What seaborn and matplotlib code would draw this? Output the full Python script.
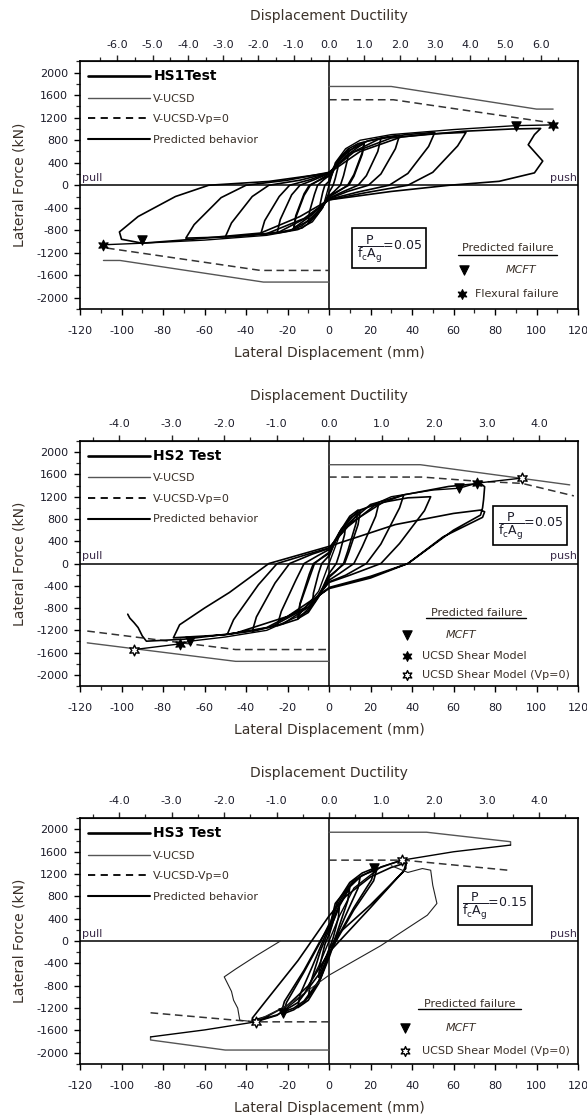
import numpy as np
import pandas as pd
import matplotlib
matplotlib.use("Agg")
import matplotlib.pyplot as plt
import seaborn as sns
from matplotlib.lines import Line2D

sns.set_style("ticks")
plt.rcParams['font.family'] = ['DejaVu Sans']
plt.rcParams['mathtext.default'] = 'regular'
plt.rcParams['axes.unicode_minus'] = False

# ---------------- data ----------------
specimens = ["HS1Test", "HS2 Test", "HS3 Test"]
axial_ratio = ["0.05", "0.05", "0.15"]
ductility_unit_mm = [17.0, 25.3, 25.3]
ductility_ticks = [[-6, -5, -4, -3, -2, -1, 0, 1, 2, 3, 4, 5, 6],
                   [-4, -3, -2, -1, 0, 1, 2, 3, 4],
                   [-4, -3, -2, -1, 0, 1, 2, 3, 4]]
disp_ticks = [-120, -100, -80, -60, -40, -20, 0, 20, 40, 60, 80, 100, 120]
force_ticks = [-2000, -1600, -1200, -800, -400, 0, 400, 800, 1200, 1600, 2000]

# HS1 test hysteresis (mm, kN)
hs1_cycles = [
    [(0,60),(1.5,200),(3,330),(4.5,420),(4.2,300),(3,120),(2,0),(0,-130),(-1.5,-260),(-3,-360),(-4.5,-450),(-4.2,-320),(-3,-120),(-2,0),(0,70)],
    [(0,90),(3,340),(6,520),(9.5,640),(9,470),(7,170),(5.5,0),(2.5,-110),(0,-190),(-3,-380),(-6,-540),(-10,-660),(-9.4,-470),(-7,-160),(-5.5,0),(-2.5,100),(0,170)],
    [(0,170),(4,430),(9,640),(14,740),(17,770),(16,580),(12,190),(9,0),(4,-120),(0,-210),(-4,-440),(-9,-650),(-13,-760),(-17,-790),(-16,-570),(-12,-180),(-9,0),(-4,110),(0,200)],
    [(0,150),(4,400),(9,610),(17,740),(16,550),(12,160),(9.5,0),(4,-110),(0,-190),(-4,-410),(-9,-620),(-17,-760),(-16,-540),(-12,-150),(-9.5,0),(-4,100),(0,170)],
    [(0,200),(6,490),(13,700),(19,790),(25,830),(23.5,600),(18,170),(14,0),(7,-110),(0,-230),(-6,-490),(-13,-720),(-19,-810),(-25,-850),(-23.5,-610),(-18,-170),(-14,0),(-7,100),(0,210)],
    [(0,210),(8,520),(18,780),(26,850),(34,890),(32,650),(25,200),(19,0),(9,-110),(0,-240),(-8,-520),(-18,-790),(-26,-850),(-33,-880),(-31,-630),(-24,-200),(-19,0),(-9,100),(0,220)],
    [(0,220),(10,560),(24,820),(37,900),(51,940),(48,690),(38,210),(29,0),(14,-120),(0,-250),(-10,-560),(-24,-830),(-37,-890),(-50,-920),(-47,-670),(-37,-200),(-29,0),(-14,90),(0,220)],
    [(0,230),(12,590),(30,840),(48,910),(66,940),(62,700),(50,230),(38,0),(18,-130),(0,-260),(-12,-590),(-30,-860),(-50,-920),(-69,-940),(-65,-700),(-52,-220),(-40,0),(-20,90),(0,230)],
    [(0,216),(15,600),(35,860),(65,960),(88,1000),(102,1010),(99,900),(96,720),(103,430),(99,220),(82,70),(58,0),(30,-110),(0,-260),(-14,-556),(-33,-850),(-69,-970),(-90,-1030),(-100,-960),(-101,-830),(-92,-556),(-74,-200),(-58,0),(-29,68),(0,216)],
]
hs1_vucsd = [[(0,1756),(30,1756),(100,1354),(108,1354)], [(-108.7,-1337),(-100.7,-1337),(-31.6,-1721),(0,-1721)]]
hs1_vp0 = [[(0,1520),(31,1520),(108,1105)], [(-107,-1117),(-33,-1514),(0,-1514)]]
hs1_pred = [(-108.7,-1058),(-90,-1030),(-60,-975),(-30,-890),(-15,-790),(-8,-650),(-3,-400),(0,0),(3,400),(8,650),(15,800),(30,900),(60,990),(90,1060),(108,1073)]
hs1_mcft = [(90,1060),(-90,-981)]
hs1_flex = [(108,1073),(-108.7,-1058)]

# HS2
hs2_cycles = [
    [(0,120),(3,400),(6,620),(8,700),(7.5,520),(5,170),(3.5,0),(0,-180),(-3,-430),(-6,-630),(-8,-720),(-7.5,-530),(-5,-170),(-3.5,0),(0,140)],
    [(0,180),(5,560),(10,850),(14,960),(13,720),(9,220),(7,0),(3,-150),(0,-250),(-5,-600),(-10,-880),(-15,-990),(-14,-740),(-9,-210),(-7,0),(-3,120),(0,200)],
    [(0,160),(5,540),(10,820),(15,930),(14,700),(9.5,200),(7.5,0),(3,-140),(0,-230),(-5,-580),(-10,-850),(-15,-960),(-14,-720),(-9.5,-190),(-7.5,0),(-3,110),(0,180)],
    [(0,240),(6,620),(14,950),(24,1080),(22.5,850),(16,300),(12,0),(5,-180),(0,-300),(-7,-700),(-15,-1000),(-25,-1120),(-23,-860),(-16,-300),(-12,0),(-5,150),(0,250)],
    [(0,260),(8,680),(20,1060),(36,1230),(34,1000),(25,350),(18,0),(8,-210),(0,-330),(-9,-760),(-22,-1080),(-37,-1220),(-35,-960),(-26,-350),(-19,0),(-8,170),(0,270)],
    [(0,280),(10,720),(26,1100),(38,1180),(49,1200),(46,950),(34,360),(25,0),(10,-210),(0,-340),(-10,-780),(-28,-1140),(-40,-1230),(-49,-1270),(-46,-1010),(-34,-380),(-25,0),(-10,170),(0,280)],
    [(0,280),(9,660),(21.6,1033),(36,1233),(57.6,1384),(73,1440),(75,1380),(74.5,1150),(74,1000),(73,870),(60,600),(38,0),(20,-230),(0,-430),(-12,-800),(-30,-1150),(-50,-1280),(-75,-1334),(-72,-1100),(-60,-800),(-48,-520),(-29,0),(0,308),(32,700),(60,900),(73,960),(75,930),(74,830),(55,480),(38,0),(20,-260),(0,-450),(-20,-950),(-45,-1250),(-70,-1360),(-88,-1395),(-90,-1300),(-92,-1150),(-94,-1060),(-96,-980),(-97,-910)],
]
hs2_vucsd = [[(0,1775),(44,1775),(116,1413)], [(-116.5,-1425),(-45,-1757),(0,-1757)]]
hs2_vp0 = [[(0,1553),(45,1553),(71,1480),(93,1440),(118,1215)], [(-116.5,-1213),(-45,-1545),(0,-1545)]]
hs2_pred = [(-94,-1546),(-72,-1444),(-67,-1395),(-50,-1320),(-30,-1200),(-15,-950),(-5,-500),(0,0),(5,500),(15,950),(30,1200),(50,1320),(62.8,1353),(71.2,1444),(92.8,1534)]
hs2_mcft = [(62.8,1353),(-67,-1395)]
hs2_ucsd = [(71.2,1444),(-72,-1444)]
hs2_ucsd0 = [(92.8,1534),(-94,-1546)]

# HS3
hs3_cycles = [
    [(0,100),(2,350),(5,620),(4.5,420),(2,60),(0,-150),(-2,-400),(-5,-650),(-4.5,-450),(-2,-60),(0,120)],
    [(0,150),(4,560),(10,960),(9,720),(4,170),(0,-250),(-4,-660),(-10,-1010),(-9,-760),(-4,-160),(0,200)],
    [(0,200),(5,650),(10,970),(15,1150),(14,950),(8,460),(3,30),(0,-300),(-5,-760),(-10,-1060),(-15,-1190),(-14,-960),(-8,-450),(-3,0),(0,250)],
    [(0,250),(4,700),(10,1050),(16,1220),(22,1310),(20.5,1100),(12,600),(4,60),(0,-250),(-5,-750),(-12,-1100),(-17,-1230),(-22,-1300),(-20.5,-1100),(-12,-550),(-4,0),(0,300)],
    [(0,220),(4,650),(10,1000),(16,1180),(23,1280),(21.5,1080),(12,560),(4,40),(0,-230),(-5,-720),(-12,-1070),(-17,-1200),(-23,-1280),(-21.5,-1080),(-12,-520),(-4,20),(0,260)],
    [(0,200),(3,675),(12,1090),(21,1270),(35,1450),(37,1380),(36,1250),(20,650),(5,150),(0,-150),(-5,-600),(-15,-1100),(-25,-1320),(-36,-1440),(-37,-1380),(-30,-1050),(-15,-350),(0,450),(8,800),(20,1150),(30,1320),(37,1400),(37,1300),(20,600),(0,-200),(-10,-800),(-20,-1150),(-30,-1350),(-37,-1420)],
]
hs3_thin = [(30,1350),(38,1230),(45,1300),(49,1270),(50,1000),(52,675),(47.4,465),(25,-80),(0,-610),(-20,-1150),(-36,-1445),(-43,-1415),(-44,-1200),(-46,-1057),(-47,-900),(-50.5,-640),(-45,-500),(-35,-260),(-23.5,0)]
hs3_vucsd = [[(0,1950),(47,1950),(87.5,1780),(87.5,1720)], [(0,-1950),(-50,-1950),(-86,-1770),(-86,-1715)]]
hs3_vp0 = [[(0,1450),(36,1450),(86,1271)], [(-86,-1283),(-36,-1445),(0,-1445)]]
hs3_pred = [(-86,-1715),(-60,-1590),(-35.3,-1445),(-25,-1330),(-12,-950),(-5,-450),(0,0),(5,450),(12,950),(25,1330),(35.3,1450),(60,1600),(87.5,1720)]
hs3_mcft = [(21.7,1313),(-22,-1295)]
hs3_ucsd0 = [(35.3,1450),(-35.3,-1445)]

# ---------------- helpers ----------------
def to_df(paths):
    rows = []
    for i, p in enumerate(paths):
        for j, (x, y) in enumerate(p):
            rows.append((i, j, x, y))
    return pd.DataFrame(rows, columns=["unit", "order", "disp", "force"])

def draw_paths(ax, paths, **kw):
    df = to_df(paths)
    sns.lineplot(data=df, x="disp", y="force", units="unit", estimator=None,
                 sort=False, ax=ax, legend=False, **kw)

def draw_points(ax, pts, marker, s, face, edge="black", lw=0.8):
    df = pd.DataFrame(pts, columns=["disp", "force"])
    sns.scatterplot(data=df, x="disp", y="force", marker=marker, s=s,
                    color=face, edgecolor=edge, linewidth=lw, ax=ax, zorder=6, legend=False)

TXT = "#1c1c2a"
LBL = "#3a3028"
STAR = (6, 1, 0)

fig = plt.figure(figsize=(5.87, 11.18), dpi=100)
rects = [[0.1363, 0.7236, 0.8484, 0.2214],
         [0.1363, 0.3864, 0.8484, 0.2191],
         [0.1363, 0.0483, 0.8484, 0.2198]]

panels = [
    dict(cycles=hs1_cycles, thin=None, vucsd=hs1_vucsd, vp0=hs1_vp0, pred=hs1_pred),
    dict(cycles=hs2_cycles, thin=None, vucsd=hs2_vucsd, vp0=hs2_vp0, pred=hs2_pred),
    dict(cycles=hs3_cycles, thin=hs3_thin, vucsd=hs3_vucsd, vp0=hs3_vp0, pred=hs3_pred),
]
box_pos = [(29, -1120), (97, 680), (80, 640)]

for k, (rect, pan) in enumerate(zip(rects, panels)):
    ax = fig.add_axes(rect)
    ax.set_xlim(-120, 120)
    ax.set_ylim(-2200, 2200)
    ax.axhline(0, color="black", lw=1.1, zorder=1)
    ax.axvline(0, color="black", lw=1.1, zorder=1)

    draw_paths(ax, pan["vucsd"], color="#555555", lw=1.0)
    vp = to_df(pan["vp0"])
    for u, g in vp.groupby("unit"):
        sns.lineplot(data=g, x="disp", y="force", sort=False, estimator=None, ax=ax,
                     color="#333333", lw=1.1, legend=False).lines[-1].set_dashes((5, 3))
    draw_paths(ax, pan["cycles"], color="black", lw=1.2)
    if pan["thin"] is not None:
        draw_paths(ax, [pan["thin"]], color="#222222", lw=0.8)
    draw_paths(ax, [pan["pred"]], color="black", lw=1.0)

    # markers
    if k == 0:
        draw_points(ax, hs1_mcft, "v", 45, "black")
        draw_points(ax, hs1_flex, STAR, 60, "black")
    elif k == 1:
        draw_points(ax, hs2_mcft, "v", 45, "black")
        draw_points(ax, hs2_ucsd, STAR, 60, "black")
        draw_points(ax, hs2_ucsd0, STAR, 60, "white", lw=1.0)
    else:
        draw_points(ax, hs3_mcft, "v", 45, "black")
        draw_points(ax, hs3_ucsd0, STAR, 60, "white", lw=1.0)

    # axes styling
    ax.set_xticks(disp_ticks)
    ax.set_xticks(np.arange(-110, 120, 20), minor=True)
    ax.set_yticks(force_ticks)
    ax.set_yticks(np.arange(-2200, 2201, 400), minor=True)
    ax.tick_params(axis="both", which="major", direction="out", length=4.5, width=1.0,
                   labelsize=8, colors="black", labelcolor=TXT)
    ax.tick_params(axis="both", which="minor", direction="out", length=3, width=0.9)
    ax.tick_params(axis="x", which="both", pad=8, top=False)
    ax.tick_params(axis="y", which="both", pad=4, right=False)
    for sp in ax.spines.values():
        sp.set_linewidth(1.2)
        sp.set_color("black")
    ax.set_xlabel("Lateral Displacement (mm)", fontsize=10, color=LBL, labelpad=7)
    ax.set_ylabel("Lateral Force (kN)", fontsize=10, color=LBL, labelpad=7)

    du = ductility_unit_mm[k]
    sec = ax.secondary_xaxis("top", functions=(lambda x, d=du: x / d, lambda x, d=du: x * d))
    sec.set_xticks(ductility_ticks[k])
    sec.set_xticks(np.arange(ductility_ticks[k][0] - 0.5, ductility_ticks[k][-1] + 0.6, 1.0), minor=True)
    sec.set_xticklabels([f"{t:.1f}" for t in ductility_ticks[k]])
    sec.tick_params(which="major", direction="out", length=4.5, width=1.0, labelsize=8,
                    labelcolor=TXT, pad=4)
    sec.tick_params(which="minor", direction="out", length=3, width=0.9)
    sec.set_xlabel("Displacement Ductility", fontsize=10, color=LBL, labelpad=14)

    # pull / push
    ax.text(-119, 40, "pull", fontsize=8, color="#3a2a48", ha="left", va="bottom")
    ax.text(119.5, 40, "push", fontsize=8, color="#3a2a48", ha="right", va="bottom")

    # legend
    handles = [Line2D([], [], color="black", lw=1.9),
               Line2D([], [], color="#555555", lw=1.0),
               Line2D([], [], color="black", lw=1.3, dashes=(4, 3)),
               Line2D([], [], color="black", lw=1.5)]
    labels = [specimens[k], "V-UCSD", "V-UCSD-Vp=0", "Predicted behavior"]
    leg = ax.legend(handles, labels, loc="upper left", bbox_to_anchor=(0.0, 1.0),
                    frameon=False, fontsize=8, handlelength=5.6, handletextpad=0.3,
                    labelspacing=0.95, borderaxespad=0.3)
    for i, t in enumerate(leg.get_texts()):
        if i == 0:
            t.set_fontweight("bold")
            t.set_fontsize(10)
            t.set_color("black")
        else:
            t.set_color(LBL)

    # P/(f'c Ag) box
    bx, by = box_pos[k]
    ax.text(bx, by, r"$\dfrac{P}{f_{c}A_{g}}$" + "=" + axial_ratio[k], fontsize=9, color=TXT,
            ha="center", va="center",
            bbox=dict(boxstyle="square,pad=0.35", fc="white", ec="black", lw=1.2))

    # predicted failure legend
    if k == 0:
        ax.text(86, -1111, "Predicted failure", fontsize=8, color=LBL, ha="center", va="center")
        ax.plot([62, 110], [-1235, -1235], color="black", lw=1.0)
        draw_points(ax, [(65, -1514)], "v", 45, "black")
        ax.text(92.6, -1514, "MCFT", fontsize=8, color=LBL, ha="center", va="center", style="italic")
        draw_points(ax, [(64, -1934)], STAR, 50, "black")
        ax.text(70.5, -1934, "Flexural failure", fontsize=8, color=LBL, ha="left", va="center")
    elif k == 1:
        ax.text(71, -893, "Predicted failure", fontsize=8, color=LBL, ha="center", va="center")
        ax.plot([46.8, 95], [-983, -983], color="black", lw=1.0)
        draw_points(ax, [(37.4, -1292)], "v", 45, "black")
        ax.text(63.8, -1292, "MCFT", fontsize=8, color=LBL, ha="center", va="center", style="italic")
        draw_points(ax, [(37.4, -1667)], STAR, 50, "black")
        ax.text(45, -1667, "UCSD Shear Model", fontsize=8, color=LBL, ha="left", va="center")
        draw_points(ax, [(37.4, -1999)], STAR, 50, "white", lw=1.0)
        ax.text(45, -1999, "UCSD Shear Model (Vp=0)", fontsize=8, color=LBL, ha="left", va="center")
    else:
        ax.text(68, -1134, "Predicted failure", fontsize=8, color=LBL, ha="center", va="center")
        ax.plot([43, 92.7], [-1223, -1223], color="black", lw=1.0)
        draw_points(ax, [(36.6, -1564)], "v", 45, "black")
        ax.text(63.7, -1564, "MCFT", fontsize=8, color=LBL, ha="center", va="center", style="italic")
        draw_points(ax, [(36.6, -1970)], STAR, 50, "white", lw=1.0)
        ax.text(44.8, -1970, "UCSD Shear Model (Vp=0)", fontsize=8, color=LBL, ha="left", va="center")

fig.savefig("out.png", dpi=100)
